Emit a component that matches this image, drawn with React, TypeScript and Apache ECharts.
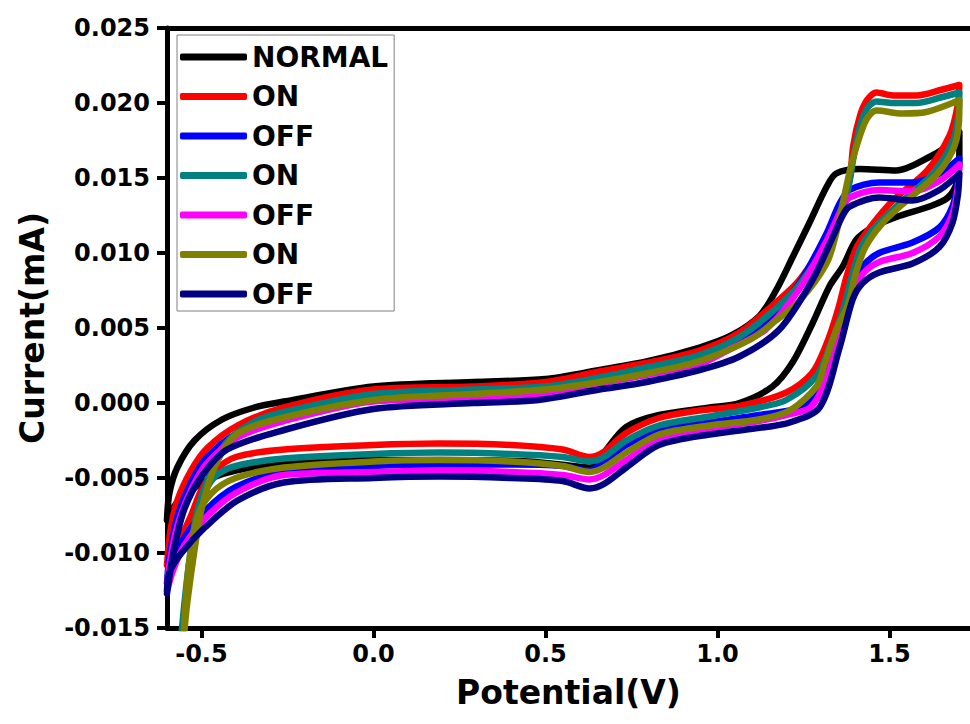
import React, { useEffect, useRef } from "react";
import * as echarts from "echarts";

type Pt = [number, number];

const SERIES_NAMES = ["NORMAL", "ON-1", "OFF-1", "ON-2", "OFF-2", "ON-3", "OFF-3"];
const X_TICKS = [-0.5, 0.0, 0.5, 1.0, 1.5];

const NORMAL: Pt[] = [
  [-0.6, -0.0078], [-0.593, -0.006], [-0.57, -0.0043], [-0.52, -0.0025], [-0.44, -0.0011], [-0.346, -0.0003],
  [-0.26, 0.0001], [0.0, 0.0011], [0.29, 0.0014], [0.5, 0.0016], [0.657, 0.0022], [0.8, 0.0028], [0.948, 0.0037],
  [1.04, 0.0045], [1.122, 0.0058], [1.17, 0.0075], [1.218, 0.0097], [1.267, 0.012], [1.317, 0.0144], [1.345, 0.0153],
  [1.413, 0.0156], [1.52, 0.0155], [1.616, 0.0164], [1.69, 0.0175], [1.703, 0.0181],
  [1.703, 0.0165], [1.697, 0.0148], [1.67, 0.0137], [1.616, 0.0131], [1.52, 0.0124], [1.45, 0.0117], [1.404, 0.0109],
  [1.364, 0.0091], [1.326, 0.0078], [1.276, 0.0053], [1.218, 0.0027], [1.16, 0.0011], [1.064, 0.0], [0.977, -0.0003],
  [0.83, -0.0008], [0.735, -0.0016], [0.67, -0.0033], [0.63, -0.0043], [0.58, -0.0042], [0.45, -0.0039], [0.2, -0.0038],
  [-0.1, -0.0038], [-0.26, -0.004], [-0.4, -0.0045], [-0.47, -0.005], [-0.53, -0.0058], [-0.57, -0.0066], [-0.6, -0.0078],
];

const ON_1: Pt[] = [
  [-0.6, -0.0108], [-0.59, -0.0085], [-0.57, -0.0065], [-0.53, -0.0045], [-0.483, -0.003], [-0.395, -0.0015],
  [-0.26, -0.0003], [0.0, 0.0009], [0.29, 0.0011], [0.5, 0.0014], [0.657, 0.0021], [0.8, 0.0027], [0.948, 0.0035],
  [1.064, 0.0047], [1.17, 0.0067], [1.238, 0.0082], [1.317, 0.0109], [1.355, 0.0127], [1.384, 0.0149], [1.395, 0.0172],
  [1.415, 0.0192], [1.435, 0.0202], [1.462, 0.0207], [1.51, 0.0205], [1.578, 0.0205], [1.654, 0.0209], [1.703, 0.0212],
  [1.698, 0.0198], [1.674, 0.0178], [1.61, 0.0155], [1.51, 0.0135], [1.45, 0.0119], [1.405, 0.0104], [1.375, 0.0084],
  [1.35, 0.0062], [1.318, 0.004], [1.275, 0.002], [1.2, 0.0007], [1.064, -0.0002], [0.948, -0.0005],
  [0.83, -0.001], [0.735, -0.002], [0.667, -0.0033], [0.628, -0.0036], [0.55, -0.0031], [0.4, -0.0028], [0.19, -0.0027],
  [0.0, -0.0028], [-0.26, -0.0031], [-0.4, -0.0036], [-0.46, -0.0045], [-0.5, -0.0058], [-0.53, -0.0075],
  [-0.56, -0.009], [-0.6, -0.0108],
];

const OFF_1: Pt[] = [
  [-0.6, -0.012], [-0.593, -0.0103], [-0.57, -0.0076], [-0.53, -0.0053], [-0.483, -0.0036], [-0.395, -0.002],
  [-0.26, -0.0009], [0.0, 0.0003], [0.29, 0.0005], [0.5, 0.0008], [0.657, 0.0015], [0.8, 0.0021], [0.948, 0.0029],
  [1.045, 0.0041], [1.14, 0.0053], [1.238, 0.008], [1.317, 0.0113], [1.355, 0.0133], [1.384, 0.0142], [1.47, 0.0147],
  [1.567, 0.0147], [1.645, 0.0153], [1.703, 0.0163],
  [1.699, 0.0148], [1.683, 0.0131], [1.645, 0.0117], [1.567, 0.0107], [1.47, 0.01], [1.422, 0.0091], [1.393, 0.0077],
  [1.364, 0.0055], [1.33, 0.003], [1.297, 0.0009], [1.24, -0.0003], [1.12, -0.0008], [0.977, -0.0013], [0.83, -0.0018],
  [0.735, -0.0028], [0.67, -0.0039], [0.628, -0.0045], [0.55, -0.0042], [0.4, -0.0041], [0.19, -0.0041], [0.0, -0.0042],
  [-0.26, -0.0046], [-0.4, -0.0056], [-0.49, -0.0072], [-0.55, -0.009], [-0.58, -0.0105], [-0.6, -0.012],
];

const ON_2: Pt[] = [
  [-0.56, -0.016], [-0.55, -0.0135], [-0.535, -0.0105], [-0.515, -0.0075], [-0.48, -0.005], [-0.43, -0.0027],
  [-0.35, -0.0013], [-0.26, -0.0006], [0.0, 0.0006], [0.29, 0.0009], [0.5, 0.0011], [0.657, 0.0017], [0.8, 0.0024],
  [0.948, 0.0032], [1.064, 0.0044], [1.17, 0.0063], [1.238, 0.0079], [1.317, 0.0106], [1.355, 0.0124], [1.38, 0.0143],
  [1.395, 0.0163], [1.415, 0.0185], [1.437, 0.0197], [1.462, 0.0201], [1.51, 0.02], [1.578, 0.02], [1.654, 0.0204],
  [1.703, 0.0207],
  [1.7, 0.0192], [1.685, 0.0175], [1.63, 0.0154], [1.535, 0.0134], [1.465, 0.0119], [1.418, 0.0104], [1.39, 0.0084],
  [1.365, 0.0062], [1.33, 0.004], [1.288, 0.0018], [1.2, 0.0002], [1.12, -0.0003], [0.977, -0.0009],
  [0.83, -0.0015], [0.735, -0.0025], [0.67, -0.0036], [0.628, -0.0039], [0.55, -0.0036], [0.4, -0.0034], [0.19, -0.0033],
  [0.0, -0.0034], [-0.26, -0.0037], [-0.4, -0.0042], [-0.46, -0.0049], [-0.5, -0.0065], [-0.525, -0.009],
  [-0.54, -0.012], [-0.55, -0.0145], [-0.56, -0.016],
];

const OFF_2: Pt[] = [
  [-0.6, -0.0125], [-0.593, -0.0108], [-0.57, -0.0082], [-0.53, -0.0058], [-0.483, -0.004], [-0.395, -0.0023],
  [-0.26, -0.0012], [0.0, 0.0001], [0.29, 0.0003], [0.5, 0.0006], [0.657, 0.0013], [0.8, 0.0019], [0.948, 0.0026],
  [1.045, 0.0037], [1.14, 0.0049], [1.238, 0.0076], [1.317, 0.0108], [1.364, 0.0131], [1.384, 0.0137], [1.47, 0.0142],
  [1.567, 0.0141], [1.645, 0.0148], [1.703, 0.0159],
  [1.699, 0.0144], [1.683, 0.0126], [1.645, 0.0111], [1.567, 0.01], [1.47, 0.0094], [1.422, 0.0086], [1.393, 0.0073],
  [1.36, 0.0048], [1.315, 0.0015], [1.27, -0.0003], [1.2, -0.0008], [1.12, -0.0012], [0.977, -0.0017], [0.83, -0.0025],
  [0.735, -0.0038], [0.67, -0.0048], [0.628, -0.0051], [0.55, -0.0048], [0.4, -0.0046], [0.19, -0.0045], [0.0, -0.0046],
  [-0.26, -0.0048], [-0.4, -0.006], [-0.49, -0.0077], [-0.55, -0.0095], [-0.58, -0.011], [-0.6, -0.0125],
];

const ON_3: Pt[] = [
  [-0.553, -0.0165], [-0.549, -0.0151], [-0.54, -0.0131], [-0.52, -0.0098], [-0.5, -0.0071], [-0.462, -0.0043],
  [-0.404, -0.0022], [-0.3, -0.0012], [0.0, 0.0002], [0.29, 0.0006], [0.5, 0.0009], [0.657, 0.0014], [0.8, 0.002],
  [0.948, 0.0028], [1.093, 0.0042], [1.17, 0.0055], [1.238, 0.0068], [1.317, 0.0093], [1.345, 0.0113], [1.364, 0.0133],
  [1.385, 0.0155], [1.404, 0.0171], [1.433, 0.0189], [1.462, 0.0195], [1.538, 0.0193], [1.607, 0.0194], [1.683, 0.02],
  [1.703, 0.0202],
  [1.703, 0.0195], [1.69, 0.0172], [1.64, 0.0153], [1.55, 0.0135], [1.48, 0.012], [1.43, 0.0104], [1.4, 0.0085],
  [1.38, 0.0066], [1.346, 0.0049], [1.31, 0.0025], [1.288, 0.0011], [1.21, -0.0005], [1.12, -0.0011],
  [0.977, -0.0015], [0.83, -0.0021], [0.735, -0.0033], [0.67, -0.0043], [0.628, -0.0046], [0.55, -0.0042], [0.4, -0.0039],
  [0.19, -0.0038], [0.0, -0.0039], [-0.26, -0.0043], [-0.4, -0.005], [-0.47, -0.006], [-0.51, -0.0075],
  [-0.535, -0.0105], [-0.548, -0.014], [-0.553, -0.0165],
];

const OFF_3: Pt[] = [
  [-0.6, -0.0127], [-0.58, -0.0098], [-0.55, -0.0071], [-0.5, -0.0049], [-0.425, -0.0031], [-0.26, -0.0018],
  [0.0, -0.0004], [0.29, 0.0], [0.48, 0.0002], [0.657, 0.0009], [0.77, 0.0013], [0.948, 0.0022], [1.064, 0.0031],
  [1.18, 0.0049], [1.276, 0.0082], [1.33, 0.0108], [1.364, 0.0125], [1.384, 0.0131], [1.47, 0.0137], [1.567, 0.0135],
  [1.645, 0.0142], [1.703, 0.0153],
  [1.699, 0.0139], [1.683, 0.012], [1.645, 0.0104], [1.567, 0.0093], [1.47, 0.0087], [1.422, 0.008], [1.393, 0.0069],
  [1.355, 0.0037], [1.297, -0.0003], [1.21, -0.0013], [1.142, -0.0016], [0.977, -0.0021], [0.83, -0.0028],
  [0.735, -0.0043], [0.67, -0.0054], [0.628, -0.0057], [0.55, -0.0052], [0.4, -0.005], [0.19, -0.0049], [0.0, -0.005],
  [-0.26, -0.0053], [-0.395, -0.0065], [-0.49, -0.0083], [-0.558, -0.01], [-0.593, -0.0113], [-0.6, -0.0127],
];

const SERIES_DATA: Pt[][] = [NORMAL, ON_1, OFF_1, ON_2, OFF_2, ON_3, OFF_3];
const COLORS = ["#000000", "#ff0000", "#0000ff", "#008080", "#ff00ff", "#808000", "#000080"];

const FONT = "DejaVu Sans";

export default function App() {
  const ref = useRef<HTMLDivElement>(null);
  useEffect(() => {
    if (!ref.current) return;
    const chart = echarts.init(ref.current, null, { renderer: "svg" });
    const axisText = { fontFamily: FONT, fontWeight: "bold" as const, fontSize: 24, color: "#000" };
    const nameText = { fontFamily: FONT, fontWeight: "bold" as const, fontSize: 33, color: "#000" };
    chart.setOption({
      animation: false,
      backgroundColor: "#ffffff",
      grid: { left: 167, right: 0, top: 28, bottom: 96, containLabel: false },
      legend: {
        show: true,
        orient: "vertical",
        left: 177,
        top: 35,
        padding: [8, 6, 3, 3],
        itemGap: 11.5,
        itemWidth: 67,
        itemHeight: 7,
        icon: "roundRect",
        borderColor: "#808080",
        borderWidth: 1,
        backgroundColor: "#ffffff",
        textStyle: { fontFamily: FONT, fontWeight: "bold", fontSize: 28, lineHeight: 28, color: "#000" },
        formatter: (n: string) => n.replace(/-\d$/, ""),
        data: SERIES_NAMES,
      },
      xAxis: [
        {
          type: "value",
          min: -0.6,
          max: 1.734,
          position: "bottom",
          axisLine: { show: true, onZero: false, lineStyle: { color: "#000", width: 5 } },
          axisTick: { show: true, length: 10, customValues: X_TICKS, lineStyle: { color: "#000", width: 4 } },
          axisLabel: { ...axisText, margin: 14, customValues: X_TICKS, formatter: (v: number) => v.toFixed(1) },
          splitLine: { show: false },
          name: "Potential(V)",
          nameLocation: "middle",
          nameGap: 48,
          nameTextStyle: nameText,
        },
        {
          type: "value",
          min: -0.6,
          max: 1.734,
          position: "top",
          axisLine: { show: true, onZero: false, lineStyle: { color: "#000", width: 5 } },
          axisTick: { show: false },
          axisLabel: { show: false },
          splitLine: { show: false },
        },
      ],
      yAxis: {
        type: "value",
        min: -0.015,
        max: 0.025,
        interval: 0.005,
        axisLine: { show: true, onZero: false, lineStyle: { color: "#000", width: 5 } },
        axisTick: { show: true, length: 10, lineStyle: { color: "#000", width: 4 } },
        axisLabel: { ...axisText, margin: 17, formatter: (v: number) => v.toFixed(3) },
        splitLine: { show: false },
        name: "Current(mA)",
        nameLocation: "middle",
        nameGap: 118,
        nameRotate: 90,
        nameTextStyle: nameText,
      },
      series: SERIES_NAMES.map((name, i) => ({
        name,
        type: "line",
        xAxisIndex: 0,
        data: SERIES_DATA[i],
        symbol: "none",
        showSymbol: false,
        smooth: 0.3,
        clip: true,
        lineStyle: { color: COLORS[i], width: 6.5, cap: "round", join: "round" },
        itemStyle: { color: COLORS[i] },
      })),
    });
    return () => chart.dispose();
  }, []);
  return <div ref={ref} style={{ position: "absolute", left: 0, top: 0, width: 970, height: 724 }} />;
}
